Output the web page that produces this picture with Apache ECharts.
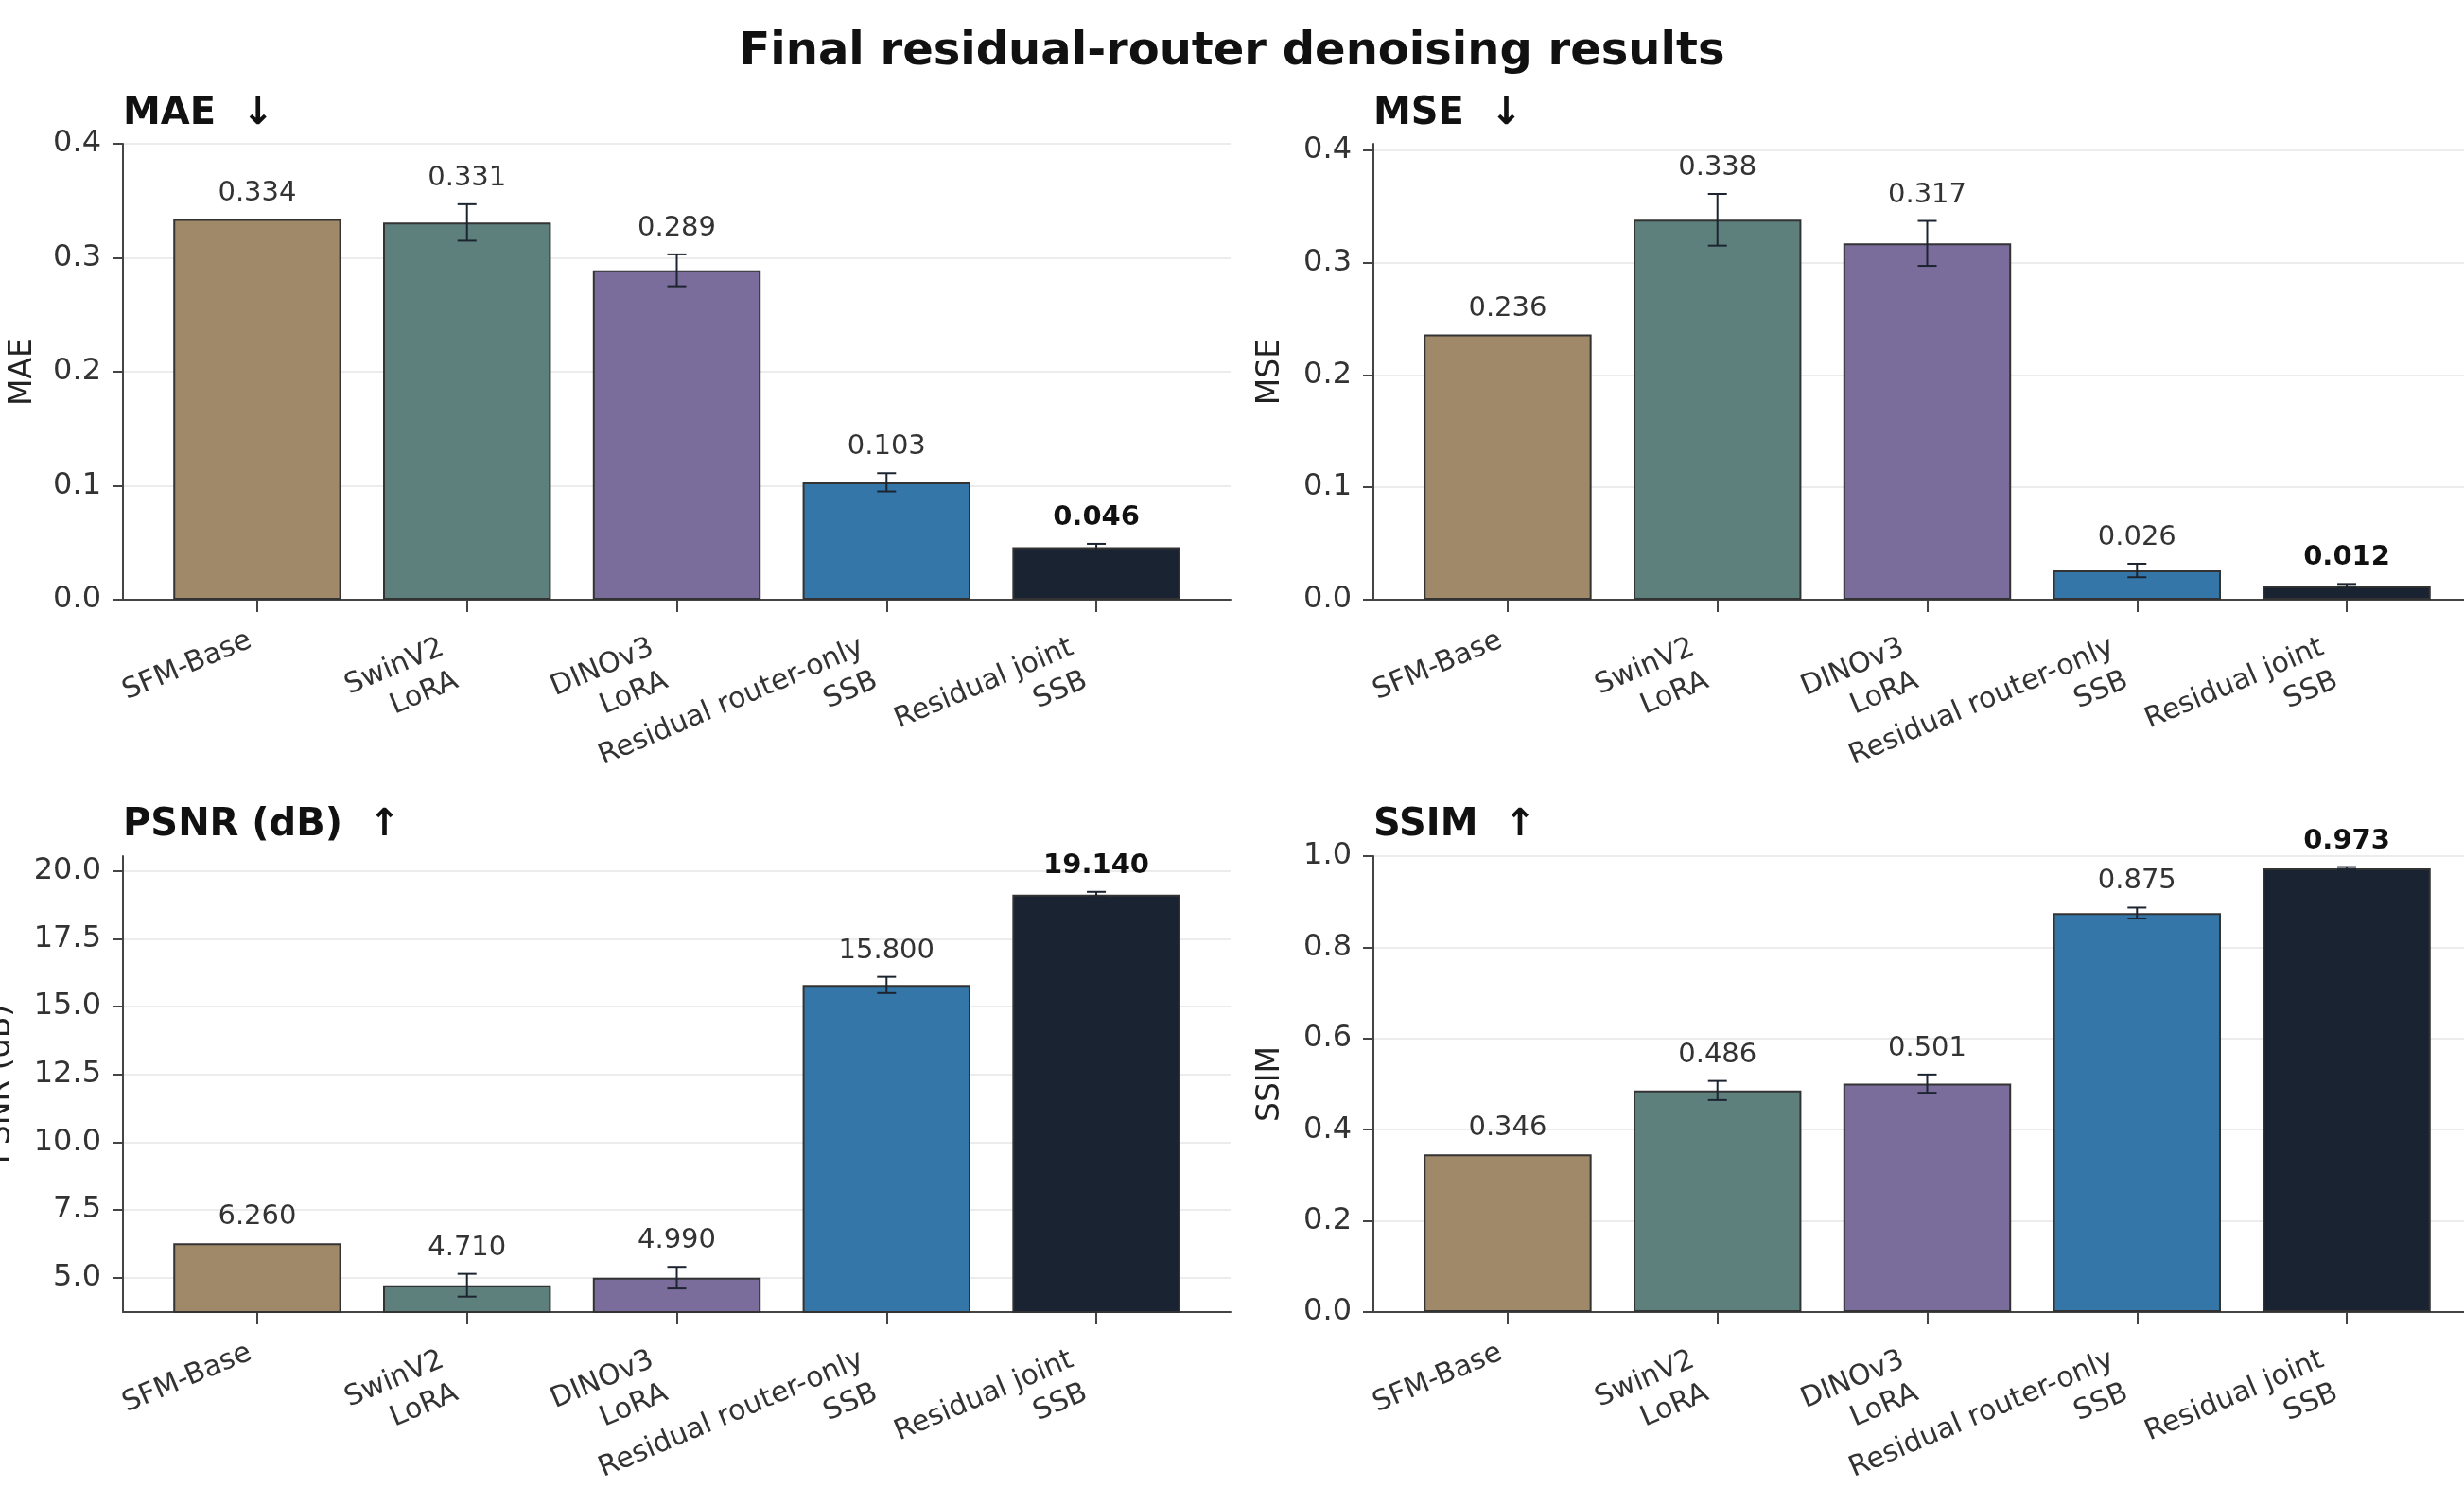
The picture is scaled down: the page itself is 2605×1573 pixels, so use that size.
<!DOCTYPE html>
<html>
<head>
<meta charset="utf-8">
<title>Final residual-router denoising results</title>
<script src="https://cdn.jsdelivr.net/npm/echarts@6/dist/echarts.min.js"></script>
<style>
  html, body { margin: 0; padding: 0; background: #fff; }
  #chart { width: 2605px; height: 1573px; }
</style>
</head>
<body>
<div id="chart"></div>
<script>
// 方法（x 轴类别）
const categories = [
  "SFM-Base",
  "SwinV2\nLoRA",
  "DINOv3\nLoRA",
  "Residual router-only\nSSB",
  "Residual joint\nSSB",
];
const barColors = ["#a08969", "#5e807c", "#7a6d9b", "#3576a8", "#1a2332"];

// 各指标均值 / 误差
const maeMean = [0.334, 0.331, 0.289, 0.103, 0.046];
const maeErr = [0, 0.016, 0.014, 0.008, 0.003];
const mseMean = [0.236, 0.338, 0.317, 0.026, 0.012];
const mseErr = [0, 0.023, 0.020, 0.006, 0.002];
const psnrMean = [6.26, 4.71, 4.99, 15.8, 19.14];
const psnrErr = [0, 0.42, 0.4, 0.3, 0.1];
const ssimMean = [0.346, 0.486, 0.501, 0.875, 0.973];
const ssimErr = [0, 0.021, 0.02, 0.012, 0.003];

// y 轴刻度
const maeTicks = [0, 0.1, 0.2, 0.3, 0.4];
const mseTicks = [0, 0.1, 0.2, 0.3, 0.4];
const psnrTicks = [5, 7.5, 10, 12.5, 15, 17.5, 20];
const ssimTicks = [0, 0.2, 0.4, 0.6, 0.8, 1.0];
const xTicks = [0, 1, 2, 3, 4];

const FONT = "DejaVu Sans";
const AXIS_COLOR = "#444";
const X_MIN = -0.64;
const X_MAX = 4.64;
const PANEL_W = 1171;
const PANEL_H = 482;

const panels = [
  { title: "MAE  ↓", name: "MAE", mean: maeMean, err: maeErr, ticks: maeTicks,
    min: 0, max: 0.4, lowerBetter: true, left: 130, top: 152, titleTop: 101, nameGap: 89 },
  { title: "MSE  ↓", name: "MSE", mean: mseMean, err: mseErr, ticks: mseTicks,
    min: 0, max: 0.4056, lowerBetter: true, left: 1452, top: 152, titleTop: 101, nameGap: 92 },
  { title: "PSNR (dB)  ↑", name: "PSNR (dB)", mean: psnrMean, err: psnrErr, ticks: psnrTicks,
    min: 3.72, max: 20.56, lowerBetter: false, left: 130, top: 905, titleTop: 853, nameGap: 112 },
  { title: "SSIM  ↑", name: "SSIM", mean: ssimMean, err: ssimErr, ticks: ssimTicks,
    min: 0, max: 1.0, lowerBetter: false, left: 1452, top: 905, titleTop: 853, nameGap: 92 },
];

const errStyle = { stroke: "#1c2430", lineWidth: 2 };

function errorBarItem(params, api) {
  const x = api.value(0);
  const v = api.value(1);
  const e = api.value(2);
  const best = api.value(3) === 1;
  const top = api.coord([x, v + e]);
  const bot = api.coord([x, v - e]);
  const cap = 10;
  const children = [];
  if (e > 0) {
    children.push(
      { type: "line", shape: { x1: top[0], y1: top[1], x2: bot[0], y2: bot[1] }, style: errStyle },
      { type: "line", shape: { x1: top[0] - cap, y1: top[1], x2: top[0] + cap, y2: top[1] }, style: errStyle },
      { type: "line", shape: { x1: bot[0] - cap, y1: bot[1], x2: bot[0] + cap, y2: bot[1] }, style: errStyle }
    );
  }
  children.push({
    type: "text",
    x: top[0],
    y: top[1] - 13,
    style: {
      text: v.toFixed(3),
      align: "center",
      verticalAlign: "bottom",
      fontFamily: FONT,
      fontSize: 29,
      fontWeight: best ? "bold" : "normal",
      fill: best ? "#111" : "#333",
    },
  });
  return { type: "group", children };
}

// 多行标签整体向左下移一点，和单行的对齐方式一致
function xLabel(v) {
  const lines = categories[Math.round(v)].split("\n");
  const tag = lines.length > 1 ? "two" : "one";
  return lines.map((l) => "{" + tag + "|" + l + "}").join("\n");
}

const xLabelText = { fontFamily: FONT, fontSize: 30, lineHeight: 38, color: "#333" };

const chart = echarts.init(document.getElementById("chart"));
const barWidth = (PANEL_W / (X_MAX - X_MIN)) * 0.8;

const option = {
  backgroundColor: "#fff",
  animation: false,
  title: [
    {
      text: "Final residual-router denoising results",
      left: "center",
      top: 32,
      padding: 0,
      textStyle: { fontFamily: FONT, fontSize: 48, fontWeight: "bold", color: "#111" },
    },
  ].concat(
    panels.map((p) => ({
      text: p.title,
      left: p.left,
      top: p.titleTop,
      padding: 0,
      textStyle: { fontFamily: FONT, fontSize: 40, fontWeight: "bold", color: "#111" },
    }))
  ),
  grid: panels.map((p) => ({
    left: p.left,
    top: p.top,
    width: PANEL_W,
    height: PANEL_H,
    outerBoundsMode: "none",
    containLabel: false,
  })),
  xAxis: panels.map((p, i) => ({
    gridIndex: i,
    type: "value",
    min: X_MIN,
    max: X_MAX,
    axisLine: { show: true, onZero: false, lineStyle: { color: AXIS_COLOR, width: 2 } },
    axisTick: { show: true, customValues: xTicks, length: 13, lineStyle: { color: AXIS_COLOR, width: 2 } },
    axisLabel: {
      customValues: xTicks,
      formatter: xLabel,
      rotate: 23,
      align: "right",
      verticalAlign: "top",
      margin: 18,
      padding: [0, 16, 0, 0],
      fontFamily: FONT,
      fontSize: 30,
      lineHeight: 38,
      color: "#333",
      rich: {
        one: Object.assign({}, xLabelText),
        two: Object.assign({ padding: [0, 20, 0, 0] }, xLabelText),
      },
    },
    splitLine: { show: false },
  })),
  yAxis: panels.map((p, i) => ({
    gridIndex: i,
    type: "value",
    min: p.min,
    max: p.max,
    name: p.name,
    nameLocation: "middle",
    nameGap: p.nameGap,
    nameTextStyle: { fontFamily: FONT, fontSize: 33, color: "#222" },
    axisLine: { show: true, onZero: false, lineStyle: { color: AXIS_COLOR, width: 2 } },
    axisTick: { show: true, customValues: p.ticks, length: 11, lineStyle: { color: AXIS_COLOR, width: 2 } },
    axisLabel: {
      customValues: p.ticks,
      formatter: (v) => v.toFixed(1),
      margin: 23,
      fontFamily: FONT,
      fontSize: 32,
      color: "#333",
    },
    splitLine: { show: true, lineStyle: { color: "#ececec", width: 2 } },
  })),
  series: [],
};

panels.forEach((p, i) => {
  const bestVal = p.lowerBetter ? Math.min(...p.mean) : Math.max(...p.mean);
  option.series.push({
    type: "bar",
    xAxisIndex: i,
    yAxisIndex: i,
    barWidth: barWidth,
    itemStyle: { borderColor: "#333", borderWidth: 2 },
    data: p.mean.map((v, j) => ({ value: [j, v], itemStyle: { color: barColors[j] } })),
  });
  option.series.push({
    type: "custom",
    xAxisIndex: i,
    yAxisIndex: i,
    z: 5,
    encode: { x: 0, y: 1 },
    renderItem: errorBarItem,
    data: p.mean.map((v, j) => [j, v, p.err[j], v === bestVal ? 1 : 0]),
  });
});

chart.setOption(option);
</script>
</body>
</html>
